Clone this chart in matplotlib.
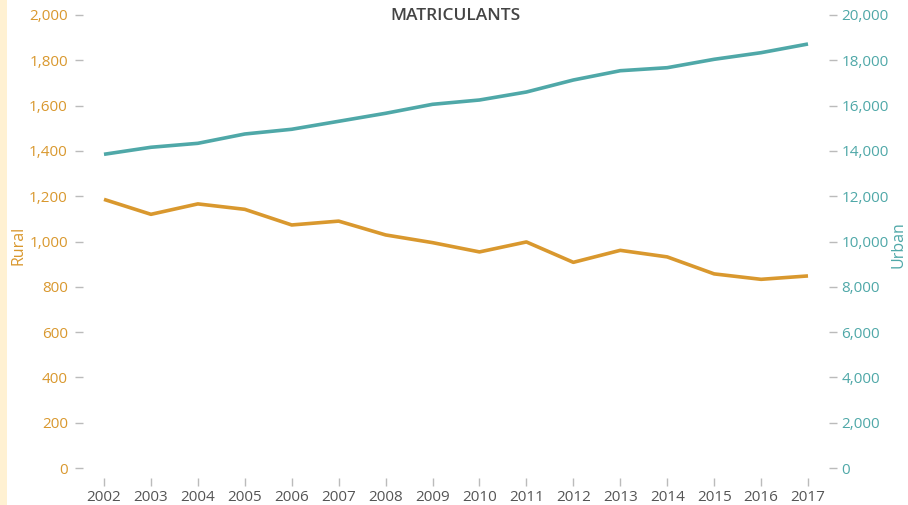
import matplotlib.pyplot as plt
import matplotlib.ticker as mticker
import matplotlib.patches as mpatches

years = list(range(2002, 2018))
rural = [1186, 1120, 1166, 1142, 1073, 1090, 1029, 995, 954, 998, 908, 961, 932, 857, 833, 848]
urban = [13850, 14160, 14335, 14746, 14955, 15307, 15660, 16057, 16247, 16600, 17130, 17540, 17673, 18044, 18336, 18720]

orange = '#D9982E'
teal = '#4FA8A8'
grey = '#555555'
tick_grey = '#BBBBBB'

plt.rcParams['font.family'] = ['Open Sans', 'DejaVu Sans']

fig = plt.figure(figsize=(9.08, 5.05), dpi=100)
fig.patches.append(mpatches.Rectangle((0, 0), 7 / 908, 1, transform=fig.transFigure,
                                      facecolor='#FFF1D2', edgecolor='none', zorder=0))

ax = fig.add_axes([104 / 908, 1 - 468 / 505, (808 - 104) / 908, (468 - 15) / 505])
ax2 = ax.twinx()

ax.plot(years, rural, color=orange, lw=2.6, solid_capstyle='butt', clip_on=False)
ax2.plot(years, urban, color=teal, lw=2.6, solid_capstyle='butt', clip_on=False)

ax.set_xlim(2002, 2017)
ax.set_ylim(0, 2000)
ax2.set_ylim(0, 20000)

for a in (ax, ax2):
    for s in a.spines.values():
        s.set_visible(False)
    a.patch.set_visible(False)

ax.spines['left'].set_position(('outward', 15))
ax.spines['bottom'].set_position(('outward', 7))
ax2.spines['right'].set_position(('outward', 15))

ax.set_xticks(years)
ax.set_yticks(range(0, 2001, 200))
ax2.set_yticks(range(0, 20001, 2000))
ax.yaxis.set_major_formatter(mticker.StrMethodFormatter('{x:,.0f}'))
ax2.yaxis.set_major_formatter(mticker.StrMethodFormatter('{x:,.0f}'))

ax.tick_params(axis='x', length=6, width=1, color=tick_grey, labelcolor=grey, labelsize=11, pad=3)
ax.tick_params(axis='y', length=6, width=1, color=tick_grey, labelcolor=orange, labelsize=11, pad=5)
ax2.tick_params(axis='y', length=6, width=1, color=tick_grey, labelcolor=teal, labelsize=11, pad=3)

fig.text(18 / 908, 1 - 245 / 505, 'Rural', rotation=90, color=orange, fontsize=11.5,
         ha='center', va='center')
fig.text(899 / 908, 1 - 245 / 505, 'Urban', rotation=90, color=teal, fontsize=11.5,
         ha='center', va='center')
fig.text(456 / 908, 1 - 16 / 505, 'MATRICULANTS', color='#444444', fontsize=12.5,
         fontweight='semibold', ha='center', va='center')

fig.savefig('out.png', dpi=100)
